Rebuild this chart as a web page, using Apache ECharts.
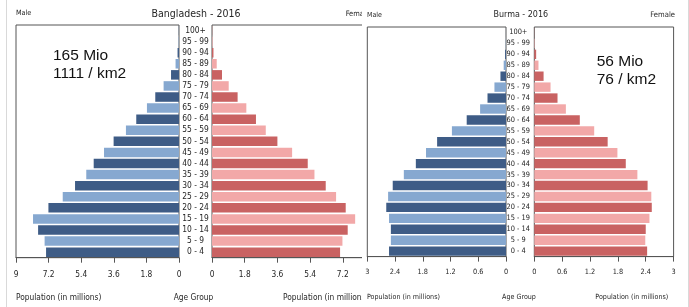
<!DOCTYPE html>
<html><head><meta charset="utf-8">
<script src="https://cdn.jsdelivr.net/npm/echarts@6/dist/echarts.min.js"></script>
<style>
html,body{margin:0;padding:0;background:#fff;width:689px;height:307px;overflow:hidden;}
#wrapL{position:absolute;left:0;top:0;width:362px;height:307px;overflow:hidden;}
#chartL{position:absolute;left:0;top:0;width:400px;height:307px;}
#chartR{position:absolute;left:362px;top:0;width:327px;height:307px;}
.vline{position:absolute;top:0;width:1px;height:307px;background:#d9d9d9;}
</style></head>
<body>
<div id="wrapL"><div id="chartL"></div></div>
<div id="chartR"></div>
<div class="vline" style="left:6px"></div>
<div class="vline" style="left:688px"></div>
<script>
const ageGroups = ['0 - 4','5 - 9','10 - 14','15 - 19','20 - 24','25 - 29','30 - 34','35 - 39','40 - 44','45 - 49','50 - 54','55 - 59','60 - 64','65 - 69','70 - 74','75 - 79','80 - 84','85 - 89','90 - 94','95 - 99','100+'];
const bangladeshMale = [7.34, 7.42, 7.78, 8.06, 7.21, 6.42, 5.74, 5.12, 4.71, 4.14, 3.61, 2.93, 2.36, 1.77, 1.31, 0.85, 0.44, 0.19, 0.08, 0.02, 0.01];
const bangladeshFemale = [7.05, 7.18, 7.47, 7.88, 7.36, 6.83, 6.26, 5.64, 5.27, 4.41, 3.60, 2.96, 2.42, 1.89, 1.41, 0.92, 0.55, 0.26, 0.08, 0.03, 0.01];
const burmaMale = [2.53, 2.49, 2.49, 2.53, 2.59, 2.55, 2.45, 2.21, 1.95, 1.73, 1.49, 1.17, 0.85, 0.56, 0.40, 0.25, 0.12, 0.05, 0.02, 0.005, 0.001];
const burmaFemale = [2.43, 2.39, 2.40, 2.48, 2.53, 2.52, 2.44, 2.22, 1.97, 1.79, 1.58, 1.29, 0.98, 0.68, 0.50, 0.35, 0.20, 0.09, 0.04, 0.01, 0.003];
const bangladeshTicksMax = 9, bangladeshTickStep = 1.8;
const burmaTicksMax = 3, burmaTickStep = 0.6;

const FONT = '"DejaVu Sans Condensed", "Liberation Sans Narrow", "DejaVu Sans", sans-serif';
const BIG = '"Liberation Sans", Arial, sans-serif';
const MALE_DARK = '#3e5c86', MALE_LIGHT = '#86a8d0';
const FEM_DARK = '#c96262', FEM_LIGHT = '#f2a8a8';
const TEXT = '#262626';

function fmt(v){ return String(Math.round(v * 10) / 10); }

function txt(text, x, y, size, align, extra) {
  return Object.assign({
    text: text, left: x, top: y, textAlign: align, textVerticalAlign: 'middle', padding: 0,
    textStyle: { fontFamily: FONT, fontSize: size, fontWeight: 'normal', color: TEXT, lineHeight: size + 3 }
  }, extra || {});
}

function buildOption(c) {
  const axisCommon = (inverse) => ({
    type: 'value', inverse: inverse, min: 0, max: c.max, interval: c.step,
    axisLine: { show: true, onZero: false, lineStyle: { color: '#555', width: 1 } },
    axisTick: { show: true, length: 5, lineStyle: { color: '#555' } },
    axisLabel: { formatter: fmt, margin: c.lm, fontSize: c.fs, fontFamily: FONT, color: TEXT, showMinLabel: true, showMaxLabel: true },
    splitLine: { show: false }
  });
  return {
    animation: false,
    title: c.titles,
    grid: [
      { left: c.mL, top: c.top, width: c.mW, height: c.h, show: true, borderColor: '#555', borderWidth: 1, backgroundColor: 'transparent' },
      { left: c.fL, top: c.top, width: c.fW, height: c.h, show: true, borderColor: '#555', borderWidth: 1, backgroundColor: 'transparent' }
    ],
    xAxis: [
      Object.assign({ gridIndex: 0 }, axisCommon(true)),
      Object.assign({ gridIndex: 1 }, axisCommon(false))
    ],
    yAxis: [
      { gridIndex: 0, type: 'category', data: ageGroups, position: 'right',
        axisLine: { show: false }, axisTick: { show: false },
        axisLabel: { interval: 0, align: 'center', margin: c.am, fontSize: c.afs, fontFamily: FONT, color: TEXT } },
      { gridIndex: 1, type: 'category', data: ageGroups,
        axisLine: { show: false }, axisTick: { show: false }, axisLabel: { show: false } }
    ],
    series: [
      { type: 'bar', xAxisIndex: 0, yAxisIndex: 0, data: c.male, barCategoryGap: '14%',
        itemStyle: { color: p => p.dataIndex % 2 === 0 ? MALE_DARK : MALE_LIGHT } },
      { type: 'bar', xAxisIndex: 1, yAxisIndex: 1, data: c.female, barCategoryGap: '14%',
        itemStyle: { color: p => p.dataIndex % 2 === 0 ? FEM_DARK : FEM_LIGHT } }
    ]
  };
}

const left = echarts.init(document.getElementById('chartL'), null, { renderer: 'canvas' });
left.setOption(buildOption({
  top: 25, h: 232.7, mL: 16, mW: 163, fL: 212, fW: 163.5,
  max: bangladeshTicksMax, step: bangladeshTickStep, fs: 8.3, afs: 8.4, lm: 13, am: 16.5,
  male: bangladeshMale, female: bangladeshFemale,
  titles: [
    txt('Male', 16, 13, 7.2, 'left'),
    txt('Bangladesh - 2016', 196, 14, 10.5, 'center'),
    txt('Female', 370, 14, 7.5, 'right'),
    txt('165 Mio\n1111 / km2', 53, 64.75, 15.5, 'left', { textStyle: { fontFamily: BIG, fontSize: 15.5, fontWeight: 'normal', color: '#111', lineHeight: 17.5 } }),
    txt('Population (in millions)', 16, 298, 8.3, 'left'),
    txt('Age Group', 193.5, 298, 8.3, 'center'),
    txt('Population (in millions)', 283, 298, 8.3, 'left')
  ]
}));

const right = echarts.init(document.getElementById('chartR'), null, { renderer: 'canvas' });
right.setOption(buildOption({
  top: 27, h: 229.6, mL: 5.3, mW: 138.7, fL: 172.3, fW: 139.3,
  max: burmaTicksMax, step: burmaTickStep, fs: 7.3, afs: 7.4, lm: 12.5, am: 12.3,
  male: burmaMale, female: burmaFemale,
  titles: [
    txt('Male', 5, 15, 7, 'left'),
    txt('Burma - 2016', 158.8, 15, 8.9, 'center'),
    txt('Female', 313, 15, 7.6, 'right'),
    txt('56 Mio\n76 / km2', 234.7, 70.75, 15.5, 'left', { textStyle: { fontFamily: BIG, fontSize: 15.5, fontWeight: 'normal', color: '#111', lineHeight: 17.5 } }),
    txt('Population (in millions)', 5, 297, 7.1, 'left'),
    txt('Age Group', 157, 297, 7.1, 'center'),
    txt('Population (in millions)', 306.3, 297, 7.1, 'right')
  ]
}));
</script>
</body></html>
